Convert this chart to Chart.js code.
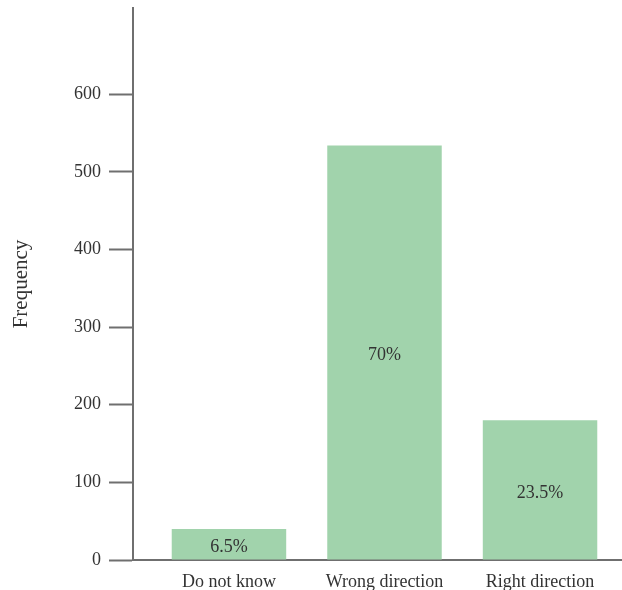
<!DOCTYPE html>
<html>
<head>
<meta charset="utf-8">
<script src="https://cdn.jsdelivr.net/npm/chart.js@4/dist/chart.umd.min.js"></script>
<style>
  html, body { margin: 0; padding: 0; background: #ffffff; }
  #wrap { width: 622px; height: 590px; }
</style>
</head>
<body>
<div id="wrap"><canvas id="chart" width="622" height="590"></canvas></div>
<script>
// Survey responses: frequency per answer, with the share of respondents
const categories = ['Do not know', 'Wrong direction', 'Right direction'];
const frequencies = [40, 534, 180];
const shareLabels = ['6.5%', '70%', '23.5%'];
const yTickValues = [0, 100, 200, 300, 400, 500, 600];

const AXIS_COLOR = '#6f6f6f';
const TEXT_COLOR = '#333333';
const BAR_COLOR = '#a1d3ac';
const FONT = '"Liberation Serif", "Times New Roman", serif';

// Write the share label inside each bar, halfway up the bar
const shareLabelPlugin = {
  id: 'shareLabels',
  afterDatasetsDraw(chart) {
    const ctx = chart.ctx;
    const meta = chart.getDatasetMeta(0);
    ctx.save();
    ctx.font = '18px ' + FONT;
    ctx.fillStyle = TEXT_COLOR;
    ctx.textAlign = 'center';
    ctx.textBaseline = 'middle';
    meta.data.forEach((bar, i) => {
      const p = bar.getProps(['x', 'y', 'base'], true);
      ctx.fillText(shareLabels[i], p.x, (p.y + p.base) / 2 + 3);
    });
    ctx.restore();
  }
};

new Chart(document.getElementById('chart'), {
  type: 'bar',
  data: {
    datasets: [{
      data: categories.map((c, i) => ({ x: i + 1, y: frequencies[i] })),
      backgroundColor: BAR_COLOR,
      borderWidth: 0,
      barPercentage: 0.736,
      categoryPercentage: 1.0
    }]
  },
  options: {
    responsive: false,
    animation: false,
    layout: { padding: { top: 0, right: 0, bottom: 0, left: 0 } },
    plugins: {
      legend: { display: false },
      tooltip: { enabled: false }
    },
    scales: {
      x: {
        type: 'linear',
        offset: false,
        min: 0.383,
        max: 3.527,
        grid: { display: false, offset: false },
        border: { display: true, color: AXIS_COLOR, width: 2 },
        afterBuildTicks(scale) {
          scale.ticks = categories.map((c, i) => ({ value: i + 1 }));
        },
        ticks: {
          autoSkip: false,
          maxRotation: 0,
          padding: 3,
          color: TEXT_COLOR,
          font: { family: FONT, size: 18 },
          callback: (v) => categories[v - 1]
        },
        afterFit(scale) {
          scale.height = 30;
          scale.paddingLeft = 0;
          scale.paddingRight = 0;
        }
      },
      y: {
        type: 'linear',
        min: 0,
        max: 711,
        afterBuildTicks(scale) {
          scale.ticks = yTickValues.map(v => ({ value: v }));
        },
        grid: {
          display: true,
          drawOnChartArea: false,
          drawTicks: true,
          tickLength: 24,
          tickWidth: 2,
          tickColor: AXIS_COLOR
        },
        border: { display: true, color: AXIS_COLOR, width: 2 },
        ticks: {
          padding: 8,
          color: TEXT_COLOR,
          font: { family: FONT, size: 18 }
        },
        title: {
          display: true,
          text: 'Frequency',
          color: TEXT_COLOR,
          font: { family: FONT, size: 21 },
          padding: { top: 9, bottom: 30 }
        },
        afterFit(scale) {
          scale.width = 133;
          scale.paddingTop = 8;
          scale.paddingBottom = 0;
        }
      }
    }
  },
  plugins: [shareLabelPlugin]
});
</script>
</body>
</html>
